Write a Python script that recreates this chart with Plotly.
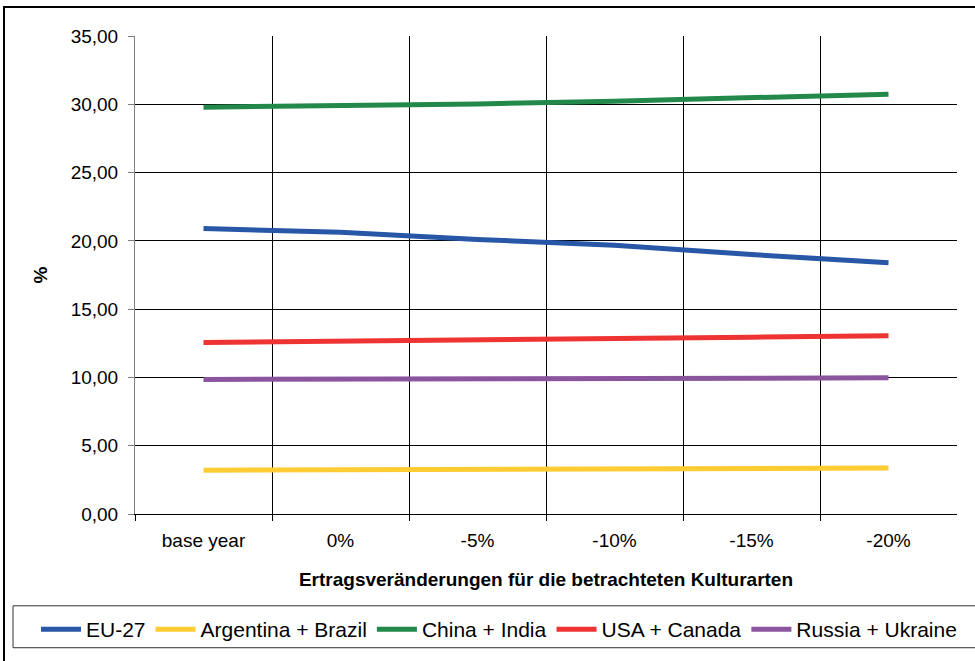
import plotly.graph_objects as go

categories = ["base year", "0%", "-5%", "-10%", "-15%", "-20%"]
eu27 = [20.90, 20.63, 20.10, 19.68, 19.00, 18.39]
arg_bra = [3.21, 3.23, 3.26, 3.29, 3.33, 3.36]
chn_ind = [29.79, 29.88, 30.03, 30.23, 30.45, 30.74]
usa_can = [12.55, 12.63, 12.73, 12.84, 12.95, 13.06]
rus_ukr = [9.85, 9.87, 9.90, 9.92, 9.95, 9.97]

series = [
    ("EU-27", eu27, "#2757A6"),
    ("Argentina + Brazil", arg_bra, "#FFCC33"),
    ("China + India", chn_ind, "#23894A"),
    ("USA + Canada", usa_can, "#EE3333"),
    ("Russia + Ukraine", rus_ukr, "#8B559E"),
]

xidx = list(range(len(categories)))
fig = go.Figure()
for name, vals, col in series:
    fig.add_trace(go.Scatter(x=xidx, y=vals, name=name, mode="lines",
                             line=dict(color=col, width=5)))

FONT = "Liberation Sans, Arial, sans-serif"
FS = 19
L, R, T, B = 135, 18, 36, 146
W, H = 975, 661
pw, ph = W - L - R, H - T - B

def px(x):
    return (x - L) / pw

def py(y):
    return (H - B - y) / ph

fig.update_layout(
    width=W, height=H,
    margin=dict(l=L, r=R, t=T, b=B),
    paper_bgcolor="white", plot_bgcolor="white",
    separators=",.",
    font=dict(family=FONT, size=FS, color="black"),
    showlegend=True,
    legend=dict(orientation="h", x=px(36), y=py(609), xanchor="left", yanchor="top",
                font=dict(size=21), bgcolor="rgba(0,0,0,0)", borderwidth=0,
                itemwidth=40, traceorder="normal"),
    xaxis=dict(
        range=[-0.5, len(categories) - 0.5],
        tickmode="array", tickvals=xidx, ticktext=categories,
        ticks="", showgrid=False, zeroline=False,
        showline=True, linecolor="black", linewidth=1,
        ticklabelstandoff=9,
        minor=dict(tickmode="array", tickvals=[i - 0.5 for i in xidx],
                   ticks="outside", ticklen=6, tickcolor="black",
                   showgrid=True, gridcolor="black", gridwidth=1),
        title=dict(text="<b>Ertragsveränderungen für die betrachteten Kulturarten</b>",
                   font=dict(size=FS), standoff=22),
        tickfont=dict(size=FS),
    ),
    yaxis=dict(
        range=[0, 35], tickmode="array", tickvals=[0, 5, 10, 15, 20, 25, 30, 35],
        tickformat=".2f", ticks="outside", ticklen=6, tickcolor="#808080",
        ticklabelstandoff=6,
        showgrid=False, zeroline=False,
        showline=True, linecolor="#808080", linewidth=1,
        minor=dict(tickmode="array", tickvals=[5, 10, 15, 20, 25, 30],
                   ticks="", showgrid=True, gridcolor="black", gridwidth=1),
        title=dict(text="<b>%</b>", font=dict(size=FS), standoff=18),
        tickfont=dict(size=FS),
    ),
    shapes=[
        dict(type="rect", xref="paper", yref="paper",
             x0=px(4), x1=px(1000), y0=py(7), y1=py(700),
             line=dict(color="black", width=2), fillcolor="rgba(0,0,0,0)", layer="above"),
        dict(type="rect", xref="paper", yref="paper",
             x0=px(13), x1=px(990), y0=py(607), y1=py(649),
             line=dict(color="#333333", width=1), fillcolor="rgba(0,0,0,0)", layer="above"),
    ],
)

fig.write_html("out.html")
